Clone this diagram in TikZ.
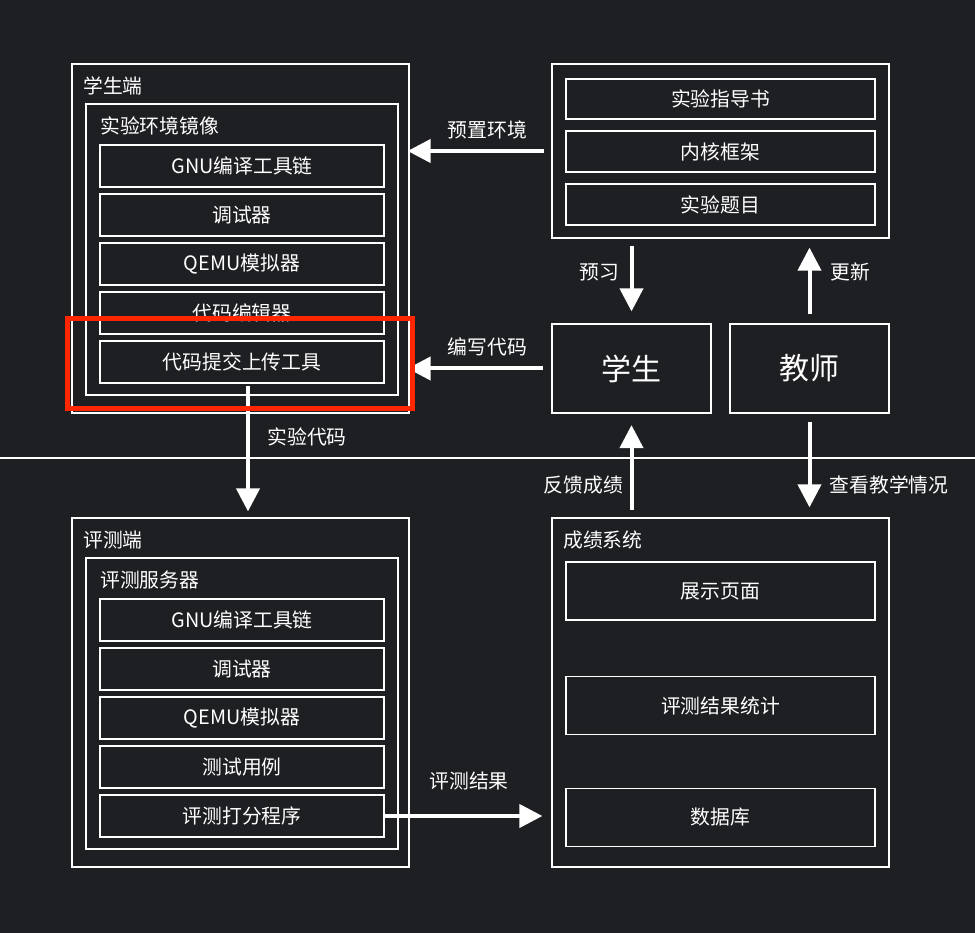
\documentclass[tikz,border=0pt]{standalone}
\usepackage{fontspec}
\setmainfont{Noto Sans CJK SC}
\usetikzlibrary{arrows.meta}
\definecolor{bg}{RGB}{30,31,34}
\definecolor{hl}{RGB}{255,38,0}
\begin{document}
\begin{tikzpicture}[x=1pt,y=-1pt,
 box/.style={draw=white, line width=1.2pt, rectangle, inner sep=0pt, text=white, font=\fontsize{19.8}{22}\selectfont},
 item/.style={box, minimum width=284pt, minimum height=42pt},
 gitem/.style={box, minimum width=309pt},
 lbl/.style={text=white, inner sep=0pt, font=\fontsize{19.8}{22}\selectfont},
 big/.style={font=\fontsize{30}{32}\selectfont},
 arr/.style={draw=white, line width=4pt, -{Triangle[width=23pt,length=23pt]}},
]
\fill[bg] (0,0) rectangle (975,933);
\useasboundingbox (0,0) rectangle (975,933);

% student side
\node[box, minimum width=337pt, minimum height=349pt] (stud) at (240.5,238.5) {};
\node[lbl, anchor=west] (studt) at (83,86) {学生端};
\node[box, minimum width=312pt, minimum height=291pt] (studin) at (242,249.5) {};
\node[lbl, anchor=west] (studint) at (100,126) {实验环境镜像};
\node[item] (s1) at (242,166) {GNU编译工具链};
\node[item] (s2) at (242,215) {调试器};
\node[item] (s3) at (242,264) {QEMU模拟器};
\node[item] (s4) at (242,313) {代码编辑器};
\node[item] (s5) at (242,362) {代码提交上传工具};

% guide
\node[box, minimum width=337pt, minimum height=174pt] (guide) at (720.5,151) {};
\node[gitem, minimum height=40pt] (g1) at (720.5,99) {实验指导书};
\node[gitem, minimum height=41pt] (g2) at (720.5,151.5) {内核框架};
\node[gitem, minimum height=41pt] (g3) at (720.5,204.5) {实验题目};

% student / teacher
\node[box, big, minimum width=159pt, minimum height=89pt] (student) at (631.5,368.5) {学生};
\node[box, big, minimum width=159pt, minimum height=89pt] (teacher) at (809.5,368.5) {教师};

% divider
\coordinate (d1) at (0,458);
\coordinate (d2) at (975,458);
\draw[white, line width=2.2pt] (d1) -- (d2);

% evaluation side
\node[box, minimum width=337pt, minimum height=349pt] (eval) at (240.5,692.5) {};
\node[lbl, anchor=west] (evalt) at (83,540) {评测端};
\node[box, minimum width=312pt, minimum height=291pt] (evalin) at (242,703.5) {};
\node[lbl, anchor=west] (evalint) at (100,580) {评测服务器};
\node[item] (e1) at (242,620) {GNU编译工具链};
\node[item] (e2) at (242,669) {调试器};
\node[item] (e3) at (242,718) {QEMU模拟器};
\node[item] (e4) at (242,767) {测试用例};
\node[item] (e5) at (242,816) {评测打分程序};

% grade system
\node[box, minimum width=337pt, minimum height=349pt] (grade) at (720.5,692.5) {};
\node[lbl, anchor=west] (gradet) at (563,540) {成绩系统};
\node[gitem, minimum height=58pt] (r1) at (720.5,591) {展示页面};
\node[gitem, minimum height=58pt] (r2) at (720.5,705.5) {评测结果统计};
\node[gitem, minimum height=58pt] (r3) at (720.5,817.5) {数据库};

% arrows
\draw[arr, shorten <=7pt, shorten >=-2pt] (guide.west) -- (stud.east |- guide.west);
\node[lbl] (l1) at (487.5,130) {预置环境};
\draw[arr, shorten <=8pt, shorten >=-2pt] (student.west) -- (stud.east |- student.west);
\node[lbl] (l2) at (487.5,347) {编写代码};
\draw[arr, shorten <=7pt, shorten >=12pt] (student.north |- guide.south) -- (student.north);
\node[lbl] (l3) at (599,272) {预习};
\draw[arr, shorten <=9pt, shorten >=9pt] (teacher.north) -- (teacher.north |- guide.south);
\node[lbl] (l4) at (850,272) {更新};
\coordinate (cs) at (248,386);
\draw[arr, shorten >=6pt] (cs) -- (cs |- eval.north);
\node[lbl] (l5) at (307,437) {实验代码};
\draw[arr, shorten <=7.5pt, shorten >=11.5pt] (student.south |- grade.north) -- (student.south);
\node[lbl] (l6) at (583.5,485) {反馈成绩};
\draw[arr, shorten <=8pt, shorten >=10pt] (teacher.south) -- (teacher.south |- grade.north);
\node[lbl] (l7) at (889,485) {查看教学情况};
\draw[arr, shorten >=9pt] (e5.east) -- (grade.west |- e5.east);
\node[lbl] (l8) at (469,781) {评测结果};

% highlight
\draw[hl, line width=5pt] (67,319) rectangle (412,408);
\end{tikzpicture}
\end{document}
